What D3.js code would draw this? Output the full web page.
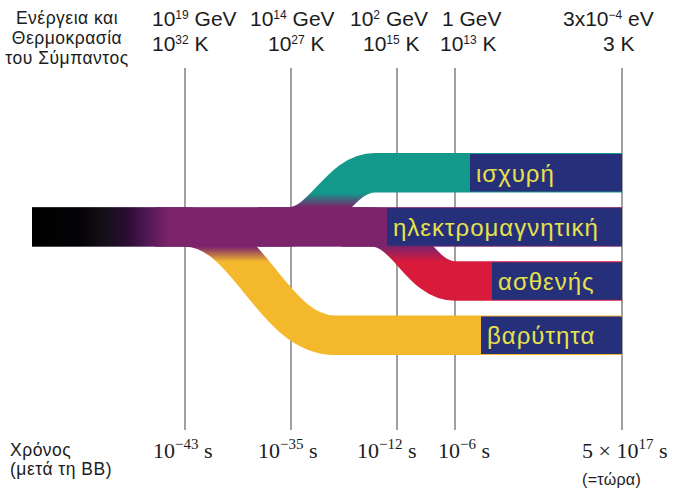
<!DOCTYPE html>
<html><head><meta charset="utf-8">
<script src="https://cdn.jsdelivr.net/npm/d3@7"></script>
<style>body{margin:0;background:#fff}svg{display:block}</style>
</head><body><svg id="c" width="674" height="491"></svg>
<script>
// ---------- data ----------
const forces      = ["ισχυρή", "ηλεκτρομαγνητική", "ασθενής", "βαρύτητα"];
const forceColors = ["#12998b", "#7b236b", "#d81b3a", "#f4b82d"];
const splitEpoch  = [1, null, 2, 0];            // epoch index at which each force separates
const logTime     = [-43, -35, -12, -6, 17.7];  // log10(seconds after BB)
const timeBase    = ["10", "10", "10", "10", "5 × 10"];
const timeExp     = ["−43", "−35", "−12", "−6", "17"];
const energyBase  = ["10", "10", "10", "1", "3x10"];
const energyExp   = ["19", "14", "2", "", "−4"];
const energyUnit  = ["GeV", "GeV", "GeV", "GeV", "eV"];
const tempBase    = ["10", "10", "10", "10", "3"];
const tempExp     = ["32", "27", "15", "13", ""];
const tempUnit    = "K";

// ---------- layout ----------
const lineX    = [185, 291, 397, 455, 622];
const xLeft    = 32;
const energyX  = [152, 250, 350, 442, 563];
const tempX    = [152, 268, 363, 440, 603];
const timeX    = [153, 258, 357, 438, 582];
const boxX     = [470, 387, 492, 481];
const curveOff = [-3, 0, -25, 0];
const curveSpan= [87, 0, 83, 150];
const purple = forceColors[1];
const navy = "#26307a";
const labelYellow = "#e8e24a";
const ink = "#1c1c1c";

const svg = d3.select("#c");
const defs = svg.append("defs");

const x = d3.scaleLinear().domain(logTime).range(lineX);
const y = d3.scaleBand().domain(forces).range([153, 355]).paddingInner(0.27);
const bw = y.bandwidth();
const xRight = x(logTime[logTime.length - 1]);

// vertical epoch lines
svg.append("g").selectAll("line").data(logTime).join("line")
  .attr("x1", d => x(d)).attr("x2", d => x(d))
  .attr("y1", 68).attr("y2", 430)
  .attr("stroke", "#808080").attr("stroke-width", 1.5);

// branching bands
const emName = forces[1];
const emTop = y(emName), emBot = y(emName) + bw, emC = emTop + bw / 2;
forces.forEach((f, i) => {
  if (splitEpoch[i] === null) return;
  const yc = y(f) + bw / 2;
  const up = yc < emC;
  const gid = "g" + i;
  const g0 = up ? emTop : emBot;
  const lg = defs.append("linearGradient").attr("id", gid)
    .attr("gradientUnits", "userSpaceOnUse")
    .attr("x1", 0).attr("x2", 0).attr("y1", g0).attr("y2", up ? g0 - 14 : g0 + 15);
  lg.append("stop").attr("offset", 0).attr("stop-color", purple);
  lg.append("stop").attr("offset", 1).attr("stop-color", forceColors[i]);
  const x0 = x(logTime[splitEpoch[i]]) + curveOff[i];
  const x1 = x0 + curveSpan[i];
  const k = curveSpan[i] * 0.42;
  const p = d3.path();
  p.moveTo(x0 - 30, emC);
  p.lineTo(x0, emC);
  p.bezierCurveTo(x0 + k, emC, x1 - k, yc, x1, yc);
  p.lineTo(xRight, yc);
  svg.append("path").attr("d", p.toString())
    .attr("fill", "none").attr("stroke", `url(#${gid})`)
    .attr("stroke-width", bw).attr("stroke-linecap", "butt");
});

// main unified bar (black -> purple)
const mg = defs.append("linearGradient").attr("id", "mg")
  .attr("gradientUnits", "userSpaceOnUse")
  .attr("x1", xLeft).attr("x2", xRight).attr("y1", 0).attr("y2", 0);
const span = xRight - xLeft;
[[32, "#000000"], [80, "#040206"], [105, "#141019"], [128, "#2c0c33"], [148, "#521856"], [168, purple], [622, purple]]
  .forEach(([px, c]) => mg.append("stop").attr("offset", (px - xLeft) / span).attr("stop-color", c));
svg.append("rect").attr("x", xLeft).attr("y", emTop).attr("width", xRight - xLeft).attr("height", bw)
  .attr("fill", "url(#mg)");

// label boxes
svg.append("g").selectAll("rect").data(forces).join("rect")
  .attr("x", (d, i) => boxX[i]).attr("y", d => y(d) + 1)
  .attr("width", (d, i) => xRight - boxX[i]).attr("height", bw - 2)
  .attr("fill", navy);
svg.append("g").selectAll("text").data(forces).join("text")
  .attr("x", (d, i) => boxX[i] + 6).attr("y", d => y(d) + bw / 2 + 9)
  .attr("font-family", "Liberation Sans, Arial, sans-serif").attr("font-size", 24)
  .attr("letter-spacing", 1)
  .attr("fill", labelYellow).text(d => d);

// helper for superscript labels
function supText(sel, base, exp, rest, supSize, shift) {
  sel.append("tspan").text(base);
  if (exp) {
    sel.append("tspan").attr("font-size", supSize).attr("dy", -shift).text(exp);
    sel.append("tspan").attr("dy", shift).text(rest);
  } else sel.append("tspan").text(rest);
}

const sans = "Liberation Sans, Arial, sans-serif";
// energy + temperature rows, time row
logTime.forEach((t, i) => {
  const e = svg.append("text").attr("x", energyX[i]).attr("y", 26)
    .attr("font-family", sans).attr("font-size", 21).attr("fill", ink);
  supText(e, energyBase[i], energyExp[i], " " + energyUnit[i], 12, 7);
  const k = svg.append("text").attr("x", tempX[i]).attr("y", 51)
    .attr("font-family", sans).attr("font-size", 21).attr("fill", ink);
  supText(k, tempBase[i], tempExp[i], " " + tempUnit, 12, 7);
  const s = svg.append("text").attr("x", timeX[i]).attr("y", 458)
    .attr("font-family", "Liberation Serif, Times New Roman, serif").attr("font-size", 22).attr("fill", ink);
  supText(s, timeBase[i], timeExp[i], " s", 15, 9);
});

// side titles
const tl = svg.append("text").attr("font-family", sans).attr("font-size", 17.5).attr("fill", ink)
  .attr("letter-spacing", 0.5).attr("text-anchor", "middle");
[["Ενέργεια και", 24], ["Θερμοκρασία", 44], ["του Σύμπαντος", 64]].forEach(([s, yy]) =>
  tl.append("tspan").attr("x", 67).attr("y", yy).text(s));
const bl = svg.append("text").attr("font-family", sans).attr("font-size", 17.5).attr("fill", ink)
  .attr("letter-spacing", 0.5);
[["Χρόνος", 456], ["(μετά τη ΒΒ)", 475]].forEach(([s, yy]) =>
  bl.append("tspan").attr("x", 10).attr("y", yy).text(s));
svg.append("text").attr("x", 582).attr("y", 485).attr("font-family", sans).attr("font-size", 16)
  .attr("letter-spacing", 0.3).attr("fill", ink).text("(=τώρα)");
</script></body></html>
